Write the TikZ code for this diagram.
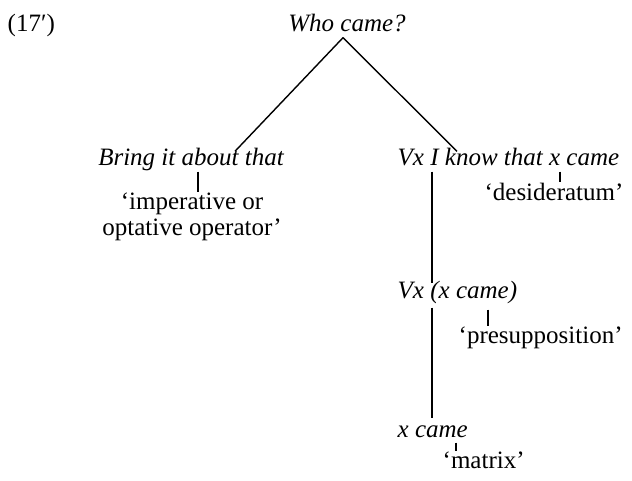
\documentclass[tikz,border=0pt]{standalone}
\usepackage{fontspec}
\setmainfont{Liberation Serif}
\usepackage{tikz}
\usetikzlibrary{positioning}

\begin{document}
\begin{tikzpicture}[x=0.5pt,y=-0.5pt,line width=0.7pt,
    font=\fontsize{12.5}{13}\selectfont,
    term/.style={inner sep=0pt,text height=0.7em,text depth=0.25em,
                 font=\fontsize{12.5}{13}\selectfont\itshape},
    gloss/.style={inner sep=0pt,align=center}]
  \useasboundingbox (0,0) rectangle (632,481);

  \node[anchor=base west,inner sep=0pt] (num) at (7,32) {(17′)};
  \node[term,anchor=base] (who) at (347,32) {Who came?};
  \node[term,anchor=base] (bring) at (191,166) {Bring it about that};
  \node[term,anchor=base west] (know) at (397,166) {Vx I know that x came};
  \node[gloss,anchor=north] (imp) at (192,192) {‘imperative or\\optative operator’};
  \node[gloss,anchor=base] (des) at (554,200) {‘desideratum’};
  \node[term,anchor=base west] (vxc) at (397,298) {Vx (x came)};
  \node[gloss,anchor=base west] (pre) at (458,343) {‘presupposition’};
  \node[term,anchor=base west] (xc) at (397,437) {x came};
  \node[gloss,anchor=base west] (mat) at (442,468) {‘matrix’};

  \coordinate (apex) at (343,0);
  \coordinate (legl) at (235,0);
  \coordinate (legr) at (457,0);
  \coordinate (about) at (198,0);
  \coordinate (vx) at (432,0);
  \coordinate (desx) at (560,0);
  \coordinate (prex) at (488,0);
  \coordinate (matx) at (456,0);

  \draw (who.south -| apex) -- (bring.north -| legl);
  \draw (who.south -| apex) -- (know.north -| legr);
  \draw (bring.south -| about) -- (imp.north -| about);
  \draw (know.south -| vx) -- (vxc.north -| vx);
  \draw (know.south -| desx) -- (des.north -| desx);
  \draw[shorten <=2pt,shorten >=2pt] (vxc.south -| vx) -- (xc.north -| vx);
  \draw[shorten <=3pt] (vxc.south -| prex) -- (pre.north -| prex);
  \draw (xc.south -| matx) -- (mat.north -| matx);
\end{tikzpicture}
\end{document}
